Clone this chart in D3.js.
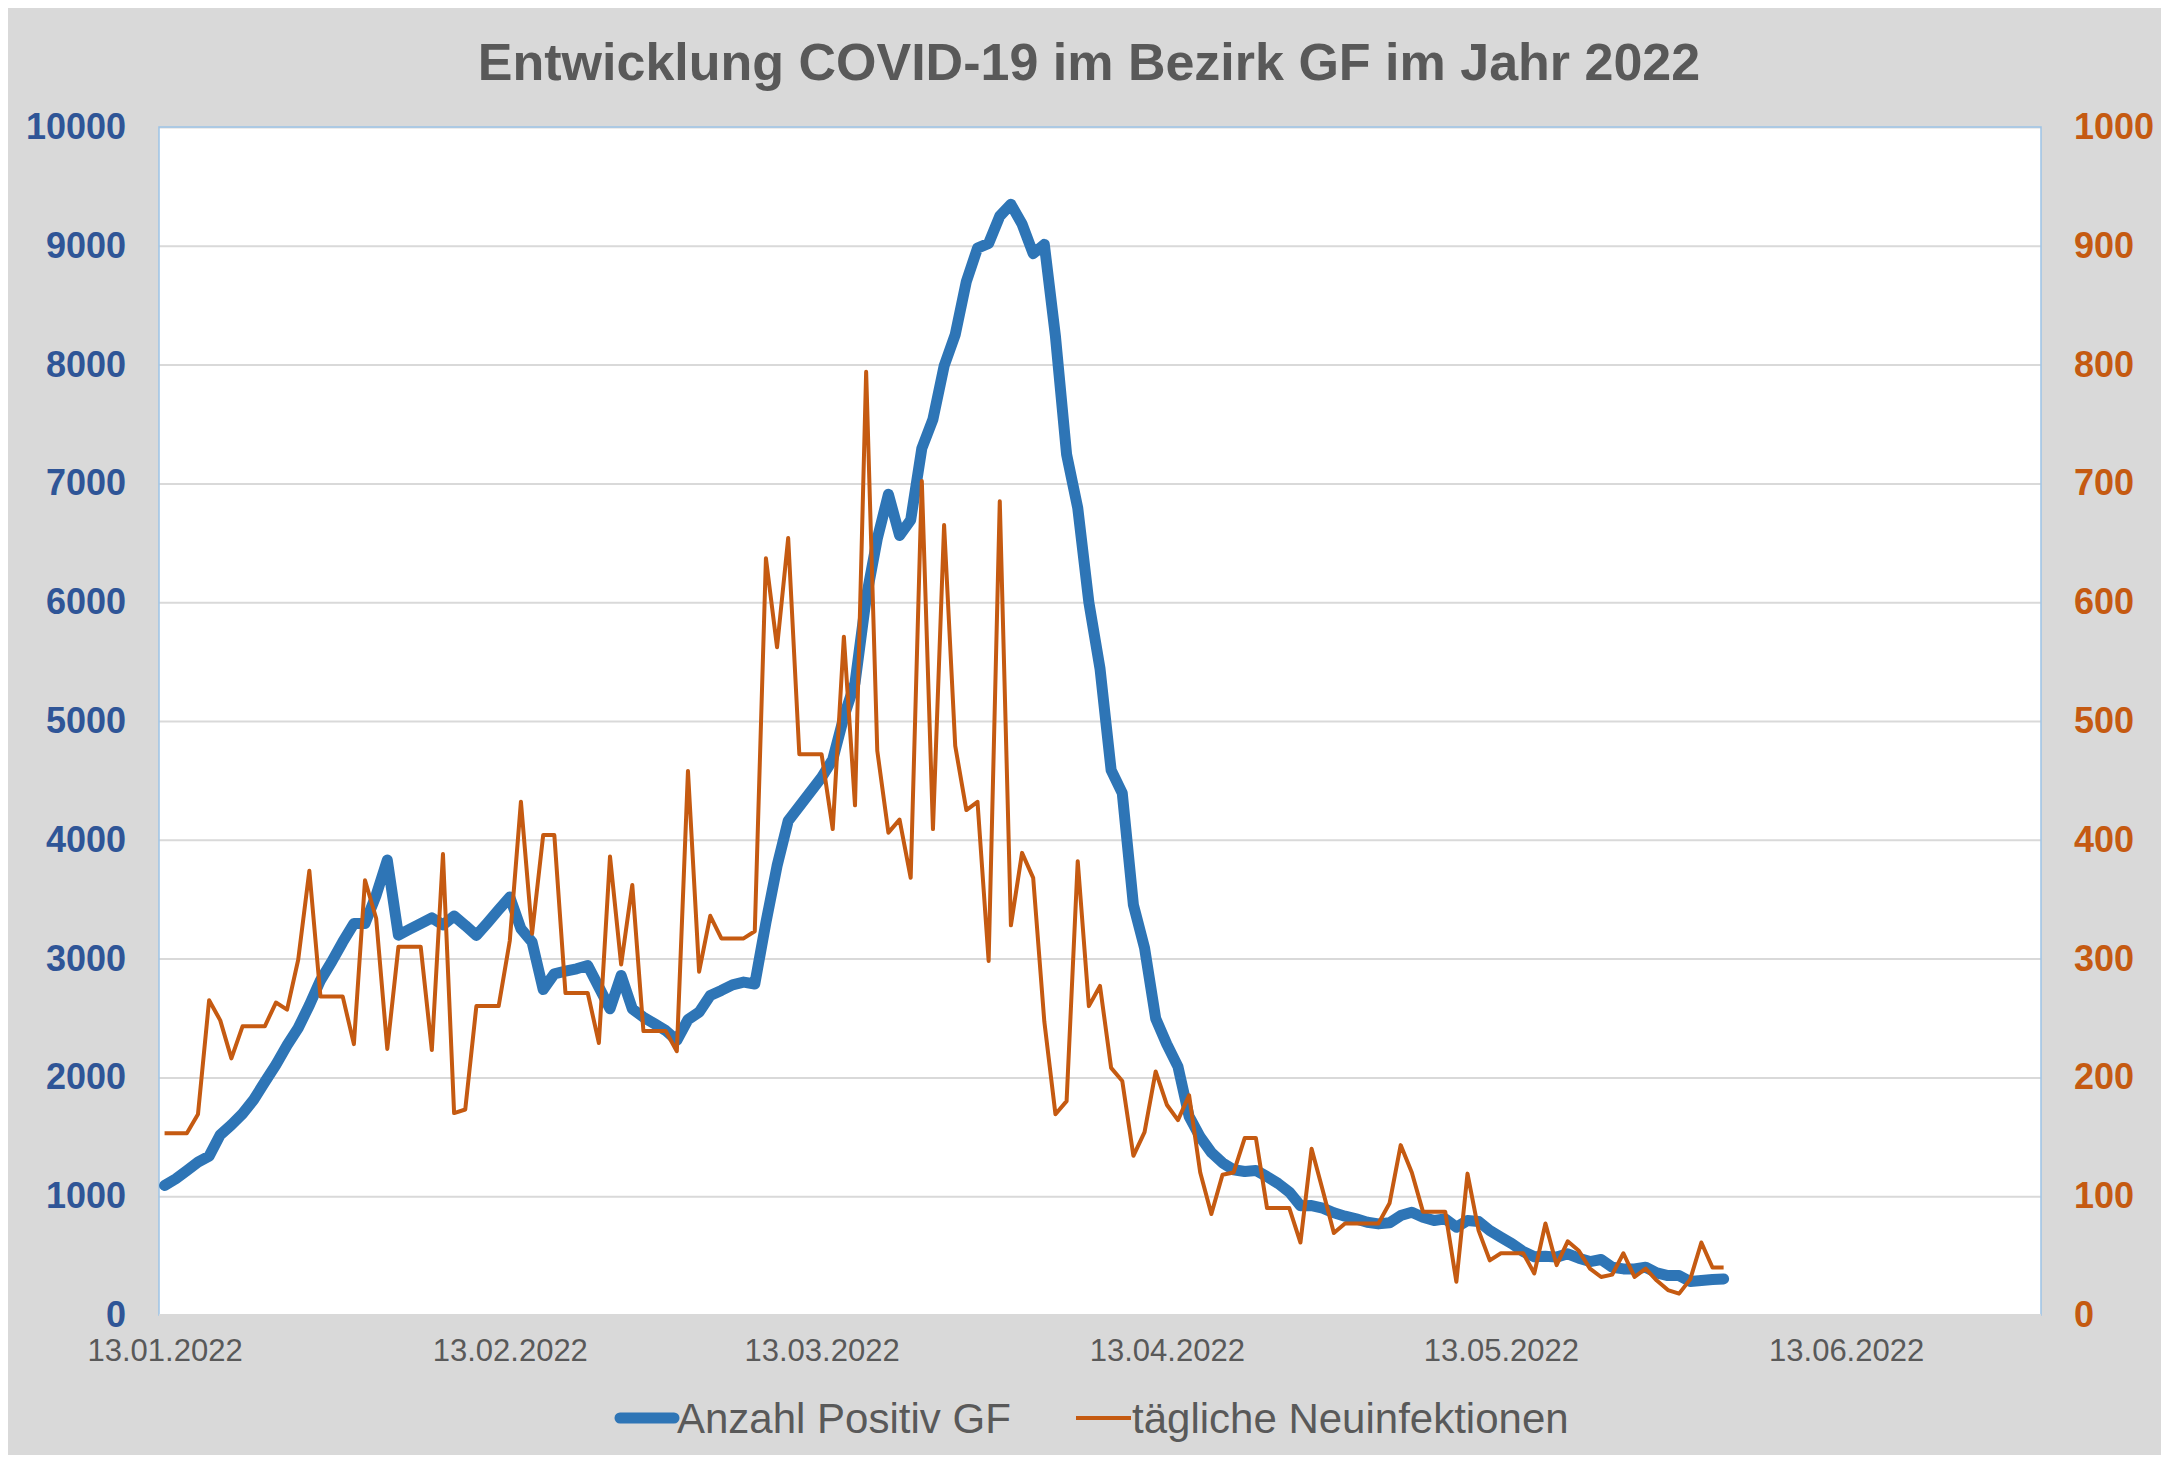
<!DOCTYPE html>
<html>
<head>
<meta charset="utf-8">
<script src="https://cdn.jsdelivr.net/npm/d3@7"></script>
<style>
  body { margin: 0; background: #ffffff; }
  text { font-family: "Liberation Sans", Arial, sans-serif; }
</style>
</head>
<body>
<div id="my_dataviz"></div>
<script>
// data: one value per day starting 13.01.2022
var startDate = "2022-01-13";
var anzahlPositiv = [
  1090, 1146, 1216, 1287, 1337, 1517, 1601, 1694, 1812, 1961,
  2107, 2270, 2416, 2607, 2817, 2972, 3140, 3295, 3295, 3534,
  3829, 3197, 3247, 3295, 3343, 3283, 3358, 3279, 3195, 3301,
  3411, 3518, 3251, 3139, 2740, 2872, 2894, 2914, 2942, 2760,
  2577, 2858, 2577, 2507, 2451, 2395, 2311, 2487, 2549, 2690,
  2732, 2779, 2802, 2786, 3303, 3780, 4159, 4281, 4403, 4525,
  4676, 5035, 5320, 6033, 6534, 6908, 6562, 6692, 7295, 7540,
  7988, 8253, 8700, 8980, 9020, 9250, 9349, 9183, 8934, 9012,
  8237, 7245, 6794, 5998, 5442, 4586, 4392, 3452, 3090, 2496,
  2279, 2091, 1672, 1498, 1368, 1281, 1223, 1208, 1217, 1165,
  1107, 1035, 920, 921, 899, 860, 832, 809, 781, 767,
  776, 837, 865, 823, 795, 809, 739, 795, 787, 711,
  655, 599, 534, 490, 495, 487, 515, 478, 450, 467,
  402, 388, 388, 402, 355, 332, 332, 282, 290, 299,
  304
];
var neuinfektionen = [
  153, 153, 153, 169, 265, 248, 216, 243, 243, 243,
  263, 257, 299, 374, 268, 268, 268, 228, 366, 334,
  224, 310, 310, 310, 223, 388, 170, 173, 260, 260,
  260, 315, 432, 321, 404, 404, 271, 271, 271, 229,
  386, 295, 362, 239, 239, 239, 222, 458, 289, 336,
  317, 317, 317, 323, 637, 562, 654, 472, 472, 472,
  409, 571, 429, 794, 475, 406, 417, 368, 702, 409,
  665, 479, 425, 432, 298, 685, 328, 389, 368, 247,
  169, 180, 382, 260, 277, 208, 197, 134, 154, 205,
  177, 164, 185, 120, 85, 118, 120, 149, 149, 90,
  90, 90, 61, 140, 105, 69, 77, 77, 77, 77,
  94, 143, 120, 87, 87, 87, 28, 119, 71, 46,
  52, 52, 52, 35, 77, 42, 62, 54, 39, 32,
  34, 52, 32, 39, 29, 21, 18, 30, 61, 40,
  40
];
var xTickDates = ["2022-01-13", "2022-02-13", "2022-03-13", "2022-04-13", "2022-05-13", "2022-06-13"];
var leftTicks = [0, 1000, 2000, 3000, 4000, 5000, 6000, 7000, 8000, 9000, 10000];
var rightTicks = [0, 100, 200, 300, 400, 500, 600, 700, 800, 900, 1000];
var seriesNames = ["Anzahl Positiv GF", "tägliche Neuinfektionen"];
var chartTitle = "Entwicklung COVID-19 im Bezirk GF im Jahr 2022";

var blue = "#2E75B6", orange = "#C55A11";
var leftColor = "#2F5597", textGrey = "#595959";

// set the dimensions and margins of the graph
var W = 2169, H = 1463;
var margin = { top: 127, right: 128, bottom: 148, left: 159 },
  width = W - margin.left - margin.right,
  height = H - margin.top - margin.bottom;

var parse = d3.timeParse("%Y-%m-%d");
var day0 = parse(startDate);
var rows = anzahlPositiv.map(function (v, i) {
  return { date: d3.timeDay.offset(day0, i), pos: v, neu: neuinfektionen[i] };
});

var svg0 = d3.select("#my_dataviz")
  .append("svg")
  .attr("width", W)
  .attr("height", H);

// grey chart background
svg0.append("rect")
  .attr("x", 8).attr("y", 8)
  .attr("width", W - 16).attr("height", H - 16)
  .attr("fill", "#D9D9D9");

svg0.append("text")
  .attr("x", 1089)
  .attr("y", 80)
  .attr("text-anchor", "middle")
  .style("font-size", "52px")
  .style("font-weight", "bold")
  .style("fill", textGrey)
  .text(chartTitle);

var svg = svg0.append("g")
  .attr("transform", "translate(" + margin.left + "," + margin.top + ")");

svg.append("rect")
  .attr("width", width).attr("height", height)
  .attr("fill", "white");

// x axis: date axis with half a day padding on both sides
var x = d3.scaleTime()
  .domain([d3.timeHour.offset(parse("2022-01-12"), 12), d3.timeHour.offset(parse("2022-06-30"), 12)])
  .range([0, width]);

var yLeft = d3.scaleLinear().domain([0, 10000]).range([height, 0]);
var yRight = d3.scaleLinear().domain([0, 1000]).range([height, 0]);

// gridlines
svg.append("g")
  .attr("class", "grid")
  .call(d3.axisLeft(yLeft).tickValues(leftTicks).tickSize(-width).tickFormat(""))
  .call(function (g) { g.select(".domain").remove(); })
  .selectAll("line")
  .attr("stroke", "#D9D9D9")
  .attr("stroke-width", 2);

// plot border
svg.append("rect")
  .attr("width", width).attr("height", height)
  .attr("fill", "none")
  .attr("stroke", "#9DC3E6")
  .attr("stroke-width", 1.5);
svg.append("line")
  .attr("x1", 0).attr("x2", width)
  .attr("y1", height).attr("y2", height)
  .attr("stroke", "#D9D9D9").attr("stroke-width", 2);

// left axis labels
var gl = svg.append("g")
  .call(d3.axisLeft(yLeft).tickValues(leftTicks).tickSize(0).tickPadding(33).tickFormat(d3.format("d")));
gl.select(".domain").remove();
gl.selectAll("text")
  .style("font-family", "'Liberation Sans', Arial, sans-serif")
  .style("font-size", "36px")
  .style("font-weight", "bold")
  .style("fill", leftColor);

// right axis labels
var gr = svg.append("g")
  .attr("transform", "translate(" + width + ",0)")
  .call(d3.axisRight(yRight).tickValues(rightTicks).tickSize(0).tickPadding(33).tickFormat(d3.format("d")));
gr.select(".domain").remove();
gr.selectAll("text")
  .style("font-family", "'Liberation Sans', Arial, sans-serif")
  .style("font-size", "36px")
  .style("font-weight", "bold")
  .style("fill", orange);

// bottom axis labels
var gx = svg.append("g")
  .attr("transform", "translate(0," + height + ")")
  .call(d3.axisBottom(x).tickValues(xTickDates.map(parse)).tickSize(0).tickPadding(24)
    .tickFormat(d3.timeFormat("%d.%m.%Y")));
gx.select(".domain").remove();
gx.selectAll("text")
  .style("font-family", "'Liberation Sans', Arial, sans-serif")
  .style("font-size", "31px")
  .style("fill", textGrey);

// the lines
svg.append("path")
  .datum(rows)
  .attr("fill", "none")
  .attr("stroke", blue)
  .attr("stroke-width", 11)
  .attr("stroke-linejoin", "round")
  .attr("stroke-linecap", "round")
  .attr("d", d3.line()
    .x(function (d) { return x(d.date) })
    .y(function (d) { return yLeft(d.pos) })
  );

svg.append("path")
  .datum(rows)
  .attr("fill", "none")
  .attr("stroke", orange)
  .attr("stroke-width", 4)
  .attr("stroke-linejoin", "round")
  .attr("d", d3.line()
    .x(function (d) { return x(d.date) })
    .y(function (d) { return yRight(d.neu) })
  );

// legend
var legend = svg0.append("g");
var legendItems = [
  { name: seriesNames[0], color: blue, sw: 11, x1: 620, x2: 674, tx: 677 },
  { name: seriesNames[1], color: orange, sw: 4, x1: 1076, x2: 1131, tx: 1132 }
];
legendItems.forEach(function (d) {
  legend.append("line")
    .attr("x1", d.x1).attr("x2", d.x2)
    .attr("y1", 1418).attr("y2", 1418)
    .attr("stroke", d.color)
    .attr("stroke-width", d.sw)
    .attr("stroke-linecap", d.sw > 5 ? "round" : "butt");
  legend.append("text")
    .attr("x", d.tx).attr("y", 1433)
    .style("font-size", "42px")
    .style("fill", textGrey)
    .text(d.name);
});
</script>
</body>
</html>
